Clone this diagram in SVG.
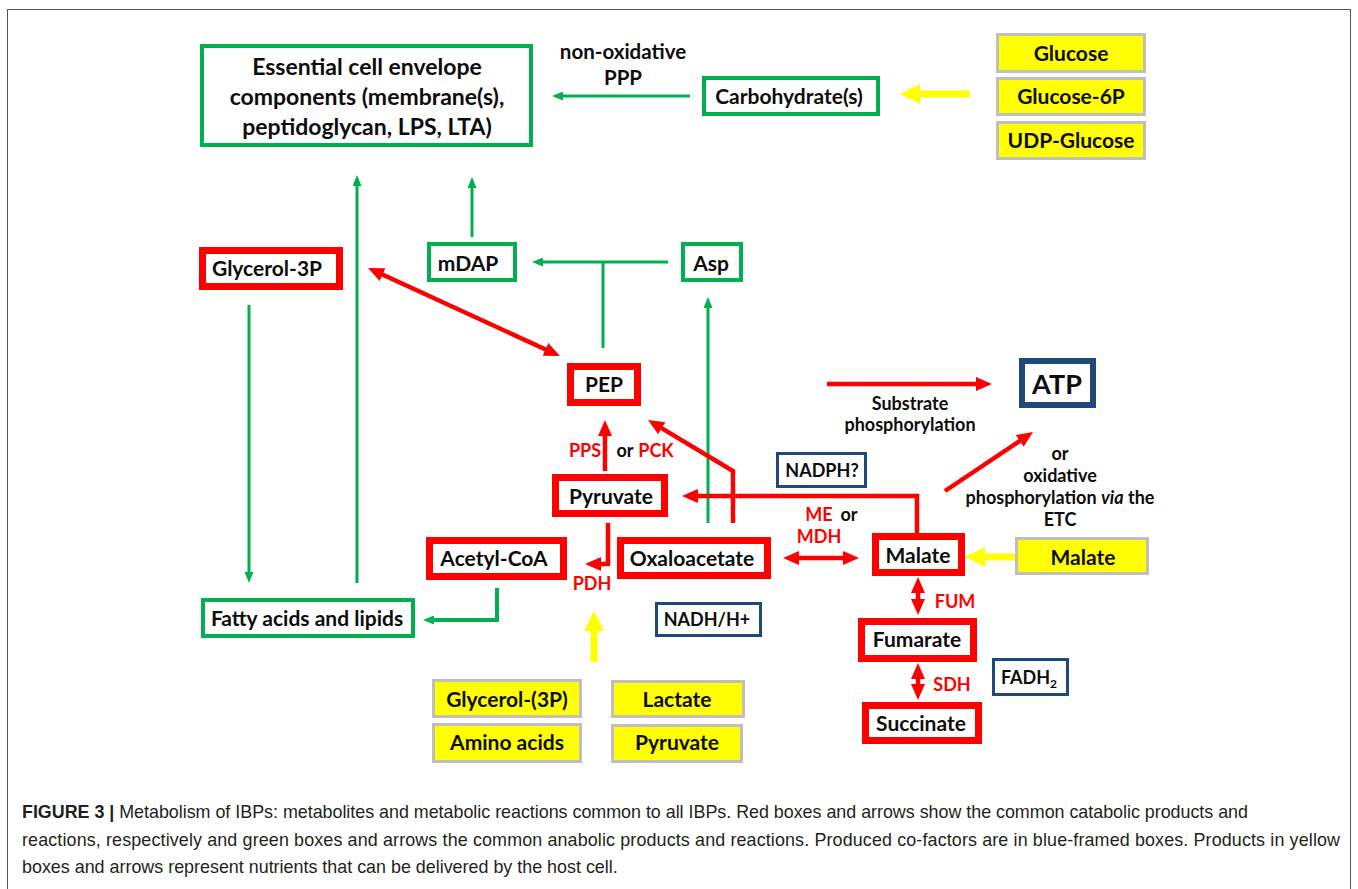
<svg xmlns="http://www.w3.org/2000/svg" width="1358" height="889" viewBox="0 0 1358 889">
<style>
.g{fill:#fff;stroke:#00b050;stroke-width:4}
.r{fill:#fff;stroke:#ff0000;stroke-width:7}
.b{fill:#fff;stroke:#1f497d;stroke-width:3}
.y{fill:#ffff00;stroke:#bfbfbf;stroke-width:3}
text{font-family:Lato,"Open Sans","Liberation Sans",sans-serif;font-weight:700;fill:#0d0d0d;text-anchor:middle}
.t{font-size:21px}
.s{font-size:18px}
.e{font-size:23px}
.red{fill:#ff0000}
.cap{font-family:"Liberation Sans",Arial,sans-serif;font-weight:400;font-size:17.9px;fill:#231f20;text-anchor:start}
.gl{fill:none;stroke:#00b050;stroke-width:3}
.rl{fill:none;stroke:#ff0000;stroke-width:4.5}
.yl{fill:none;stroke:#ffff00;stroke-width:7}
</style>
<defs>
<marker id="ga" markerUnits="userSpaceOnUse" markerWidth="11" markerHeight="9" refX="5.5" refY="4.5" orient="auto"><path d="M0,0 L11,4.5 L0,9 z" fill="#00b050"/></marker>
<marker id="ra" markerUnits="userSpaceOnUse" markerWidth="16" markerHeight="14" refX="8" refY="7" orient="auto-start-reverse"><path d="M0,0 L16,7 L0,14 z" fill="#ff0000"/></marker>
<marker id="ya" markerUnits="userSpaceOnUse" markerWidth="20" markerHeight="20" refX="10" refY="10" orient="auto"><path d="M0,0 L20,10 L0,20 z" fill="#ffff00"/></marker>
</defs>
<rect x="7.5" y="9.5" width="1343" height="900" fill="none" stroke="#555" stroke-width="1"/>

<g id="connectors">
<path class="gl" d="M690,96 H557.5" marker-end="url(#ga)"/>
<path class="gl" d="M357,583 V180.5" marker-end="url(#ga)"/>
<path class="gl" d="M472,237 V182.5" marker-end="url(#ga)"/>
<path class="gl" d="M668,262 H537.5" marker-end="url(#ga)"/>
<path class="gl" d="M603,262 V348"/>
<path class="gl" d="M249,305 V577.5" marker-end="url(#ga)"/>
<path class="gl" d="M708,523 V302.5" marker-end="url(#ga)"/>
<path class="gl" style="stroke-width:4" d="M497,588 V620 H428.5" marker-end="url(#ga)"/>
<path class="rl" d="M375.3,271.3 L552.7,352.7" marker-start="url(#ra)" marker-end="url(#ra)"/>
<path class="rl" d="M605,471 V428" marker-end="url(#ra)"/>
<path class="rl" d="M733,523 V471 L654.9,424.1" marker-end="url(#ra)"/>
<path class="rl" d="M917,533 V496 H690" marker-end="url(#ra)"/>
<path class="rl" d="M608,523 V564 H593" marker-end="url(#ra)"/>
<path class="rl" d="M791,558 H851" marker-start="url(#ra)" marker-end="url(#ra)"/>
<path class="rl" d="M918,585 V607" marker-start="url(#ra)" marker-end="url(#ra)"/>
<path class="rl" d="M918,671 V692" marker-start="url(#ra)" marker-end="url(#ra)"/>
<path class="rl" d="M827,384 H984" marker-end="url(#ra)"/>
<path class="rl" d="M945,491 L1026.4,436.5" marker-end="url(#ra)"/>
<path class="yl" d="M970,94 H910" marker-end="url(#ya)"/>
<path class="yl" d="M1015,557 H975" marker-end="url(#ya)"/>
<path class="yl" d="M594,662 V621" marker-end="url(#ya)"/>
</g>

<g id="labels">
<text style="font-size:20.5px" x="623" y="59">non-oxidative</text>
<text style="font-size:20.5px" x="623" y="85">PPP</text>
<text class="s" x="910" y="410">Substrate</text>
<text class="s" x="910" y="431">phosphorylation</text>
<text class="s" x="1060" y="460">or</text>
<text class="s" x="1060" y="482">oxidative</text>
<text class="s" x="1060" y="504">phosphorylation <tspan font-style="italic">via</tspan> the</text>
<text class="s" x="1060" y="526">ETC</text>
<text class="s red" x="585" y="457">PPS</text>
<text class="s" x="625" y="457">or</text>
<text class="s red" x="656" y="457">PCK</text>
<text class="s red" x="819" y="521">ME</text>
<text class="s" x="849" y="521">or</text>
<text class="s red" x="819" y="543">MDH</text>
<text class="s red" x="592" y="590">PDH</text>
<text class="s red" x="955" y="608">FUM</text>
<text class="s red" x="952" y="691">SDH</text>
</g>

<g id="envelope"><rect class="g" x="202" y="46" width="329" height="99"/>
<text class="e" x="367" y="75">Essential cell envelope</text>
<text class="e" x="367" y="105">components (membrane(s),</text>
<text class="e" x="367" y="135">peptidoglycan, LPS, LTA)</text></g>
<g id="carbohydrates"><rect class="g" x="704" y="78" width="174" height="36"/><text class="t" x="789" y="104">Carbohydrate(s)</text></g>
<g id="glucose"><rect class="y" x="997.5" y="34.5" width="147" height="37"/><text class="t" x="1071" y="61">Glucose</text></g>
<g id="glucose6p"><rect class="y" x="997.5" y="78.5" width="147" height="36"/><text class="t" x="1071" y="104">Glucose-6P</text></g>
<g id="udpglucose"><rect class="y" x="997.5" y="122.5" width="147" height="36"/><text class="t" x="1071" y="148">UDP-Glucose</text></g>
<g id="glycerol3p"><rect class="r" x="202.5" y="250.5" width="137" height="36"/><text class="t" x="267" y="276">Glycerol-3P</text></g>
<g id="mdap"><rect class="g" x="429" y="244" width="86" height="36"/><text class="t" x="468" y="271">mDAP</text></g>
<g id="asp"><rect class="g" x="683" y="244" width="58" height="36"/><text class="t" x="711" y="271">Asp</text></g>
<g id="pep"><rect class="r" x="570.5" y="366.5" width="67" height="36"/><text class="t" x="604" y="392">PEP</text></g>
<g id="pyruvate"><rect class="r" x="555.5" y="477.5" width="109" height="36"/><text class="t" x="611" y="504">Pyruvate</text></g>
<g id="acetylcoa"><rect class="r" x="429.5" y="540.5" width="134" height="36"/><text class="t" x="494" y="566">Acetyl-CoA</text></g>
<g id="oxaloacetate"><rect class="r" x="620.5" y="540.5" width="147" height="35"/><text class="t" x="692" y="566">Oxaloacetate</text></g>
<g id="malate"><rect class="r" x="875.5" y="536.5" width="86" height="36"/><text class="t" x="918" y="563">Malate</text></g>
<g id="malate-in"><rect class="y" x="1016.5" y="538.5" width="131" height="35"/><text class="t" x="1083" y="565">Malate</text></g>
<g id="fumarate"><rect class="r" x="861.5" y="621.5" width="112" height="37"/><text class="t" x="917" y="647">Fumarate</text></g>
<g id="succinate"><rect class="r" x="865.5" y="705.5" width="113" height="35"/><text class="t" x="921" y="731">Succinate</text></g>
<g id="fatty"><rect class="g" x="203" y="600" width="210" height="36"/><text class="t" x="307" y="626">Fatty acids and lipids</text></g>
<g id="nadph"><rect class="b" x="777.5" y="453.5" width="88" height="33"/><text class="s" x="822" y="477">NADPH?</text></g>
<g id="nadh"><rect class="b" x="656.5" y="603.5" width="104" height="32"/><text class="s" x="707" y="626">NADH/H+</text></g>
<g id="fadh2"><rect class="b" x="993.5" y="659.5" width="74" height="35"/><text class="s" x="1029" y="684">FADH<tspan font-size="12px" dy="4">2</tspan></text></g>
<g id="atp"><rect fill="#fff" stroke="#1f497d" stroke-width="6" x="1022" y="361" width="71" height="44"/><text style="font-size:27px" x="1057" y="394">ATP</text></g>
<g id="glycerol3p-in"><rect class="y" x="433.5" y="680.5" width="147" height="36"/><text class="t" x="507" y="707">Glycerol-(3P)</text></g>
<g id="aminoacids"><rect class="y" x="433.5" y="724.5" width="147" height="37"/><text class="t" x="507" y="750">Amino acids</text></g>
<g id="lactate"><rect class="y" x="612.5" y="681.5" width="131" height="35"/><text class="t" x="677" y="707">Lactate</text></g>
<g id="pyruvate-in"><rect class="y" x="612.5" y="725.5" width="129" height="36"/><text class="t" x="677" y="750">Pyruvate</text></g>

<g id="caption">
<text class="cap" x="22" y="818" textLength="1226"><tspan font-weight="700">FIGURE 3 |</tspan> Metabolism of IBPs: metabolites and metabolic reactions common to all IBPs. Red boxes and arrows show the common catabolic products and</text>
<text class="cap" x="22" y="846" textLength="1318">reactions, respectively and green boxes and arrows the common anabolic products and reactions. Produced co-factors are in blue-framed boxes. Products in yellow</text>
<text class="cap" x="22" y="873">boxes and arrows represent nutrients that can be delivered by the host cell.</text>
</g>
</svg>
